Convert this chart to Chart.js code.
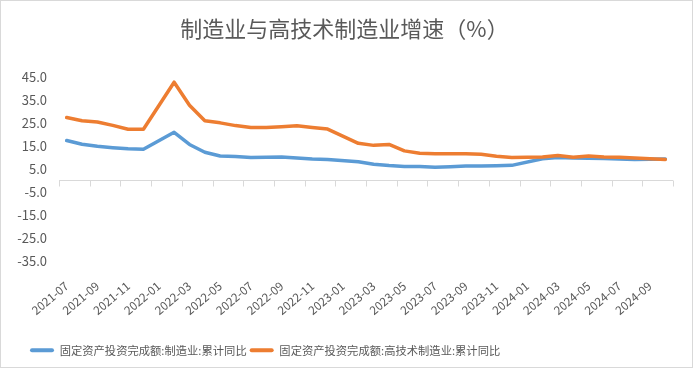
<!DOCTYPE html>
<html><head><meta charset="utf-8">
<script src="https://cdn.jsdelivr.net/npm/chart.js@4.4.1/dist/chart.umd.min.js"></script>
<style>
html,body{margin:0;padding:0;background:#fff;}
#wrap{position:absolute;left:0;top:0;width:694px;height:371px;}
#frame{position:absolute;left:0;top:0;width:691px;height:366px;border:1px solid #d9d9d9;pointer-events:none;}
</style></head><body>
<div id="wrap"><canvas id="c" width="694" height="371"></canvas></div>
<div id="frame"></div>
<script>
const categories = [
  '2021-07','2021-08','2021-09','2021-10','2021-11','2021-12',
  '2022-01','2022-02','2022-03','2022-04','2022-05','2022-06','2022-07','2022-08','2022-09','2022-10','2022-11','2022-12',
  '2023-01','2023-02','2023-03','2023-04','2023-05','2023-06','2023-07','2023-08','2023-09','2023-10','2023-11','2023-12',
  '2024-01','2024-02','2024-03','2024-04','2024-05','2024-06','2024-07','2024-08','2024-09','2024-10'
];
const manufacturing = [
  17.3, 15.7, 14.8, 14.2, 13.7, 13.5,
  null, 20.9, 15.6, 12.2, 10.6, 10.4, 9.9, 10.0, 10.1, 9.7, 9.3, 9.1,
  null, 8.1, 7.0, 6.4, 6.0, 6.0, 5.7, 5.9, 6.2, 6.2, 6.3, 6.5,
  null, 9.4, 9.9, 9.7, 9.6, 9.5, 9.3, 9.1, 9.2, 9.3
];
const hiTech = [
  27.3, 25.9, 25.4, 23.9, 22.2, 22.2,
  null, 42.7, 32.7, 25.9, 25.0, 23.8, 23.0, 23.0, 23.3, 23.7, 23.0, 22.3,
  null, 16.1, 15.2, 15.6, 12.8, 11.8, 11.5, 11.6, 11.6, 11.3, 10.5, 9.9,
  null, 10.1, 10.8, 10.0, 10.6, 10.1, 10.0, 9.7, 9.4, 9.1
];
const seriesNames = ['固定资产投资完成额:制造业:累计同比', '固定资产投资完成额:高技术制造业:累计同比'];
const titleText = '制造业与高技术制造业增速（%）';
const yMin = -35, yMax = 45, yStep = 10;

const FONT = '"Noto Sans CJK SC", "Noto Sans", sans-serif';
const GREY = '#595959';
const AXIS = '#d9d9d9';

const zeroAxis = {
  id: 'zeroAxis',
  beforeDatasetsDraw(chart) {
    const {ctx, chartArea: a, scales: {x, y}} = chart;
    const y0 = Math.round(y.getPixelForValue(0)) + 0.5;
    ctx.save();
    ctx.strokeStyle = AXIS;
    ctx.lineWidth = 1;
    ctx.beginPath();
    ctx.moveTo(a.left, y0); ctx.lineTo(a.right, y0);
    for (let i = 0; i <= categories.length; i += 2) {
      const px = Math.round(x.getPixelForValue(i - 0.5)) + 0.5;
      ctx.moveTo(px, y0); ctx.lineTo(px, y0 + 6);
    }
    ctx.stroke();
    ctx.restore();
  }
};
const boxShift = {
  id: 'boxShift',
  afterLayout(chart) {
    const l = chart.legend;
    if (l) { const w = l.right - l.left; l.left = 27; l.right = 27 + w; }
    const t = chart.titleBlock;
    if (t) { t.left += 8; t.right += 8; }
  }
};

new Chart(document.getElementById('c'), {
  type: 'line',
  data: {
    labels: categories,
    datasets: [
      { label: seriesNames[0], data: manufacturing, borderColor: '#5B9BD5', backgroundColor: '#5B9BD5',
        borderWidth: 3.5, pointRadius: 0, tension: 0, spanGaps: true, order: 2, borderCapStyle: 'round', borderJoinStyle: 'round' },
      { label: seriesNames[1], data: hiTech, borderColor: '#ED7D31', backgroundColor: '#ED7D31',
        borderWidth: 3.5, pointRadius: 0, tension: 0, spanGaps: true, order: 1, borderCapStyle: 'round', borderJoinStyle: 'round' }
    ]
  },
  options: {
    responsive: false,
    animation: false,
    layout: { padding: { left: 0, right: 21, top: 0, bottom: 5 } },
    plugins: {
      tooltip: { enabled: false },
      title: { display: true, text: titleText, color: GREY, font: { family: FONT, size: 22, weight: 'normal' }, padding: { top: 15.5, bottom: 35 } },
      legend: {
        position: 'bottom', align: 'start',
        labels: {
          color: GREY, font: { family: FONT, size: 11.3 }, boxWidth: 24, boxHeight: 4, padding: 3,
          useBorderRadius: true, borderRadius: 2,
          sort: (a, b) => a.datasetIndex - b.datasetIndex,
          generateLabels(chart) {
            const items = Chart.defaults.plugins.legend.labels.generateLabels(chart);
            items.forEach(it => { it.lineWidth = 0; });
            return items;
          }
        }
      }
    },
    scales: {
      x: {
        offset: true,
        grid: { display: false, drawTicks: false },
        border: { display: false },
        ticks: {
          autoSkip: false, maxRotation: 40, minRotation: 40, padding: 18, color: GREY,
          font: { family: FONT, size: 11.8 },
          callback(v, i) { return i % 2 === 0 ? this.getLabelForValue(v) : ''; }
        },
        afterFit(s) { s.height = 81; }
      },
      y: {
        min: yMin, max: yMax,
        grid: { display: false, drawTicks: false },
        border: { display: false },
        ticks: { stepSize: yStep, padding: 12, color: GREY, font: { family: FONT, size: 13 },
          callback: v => v.toFixed(1) },
        afterFit(s) { s.width = 59; }
      }
    }
  },
  plugins: [zeroAxis, boxShift]
});
</script>
</body></html>
